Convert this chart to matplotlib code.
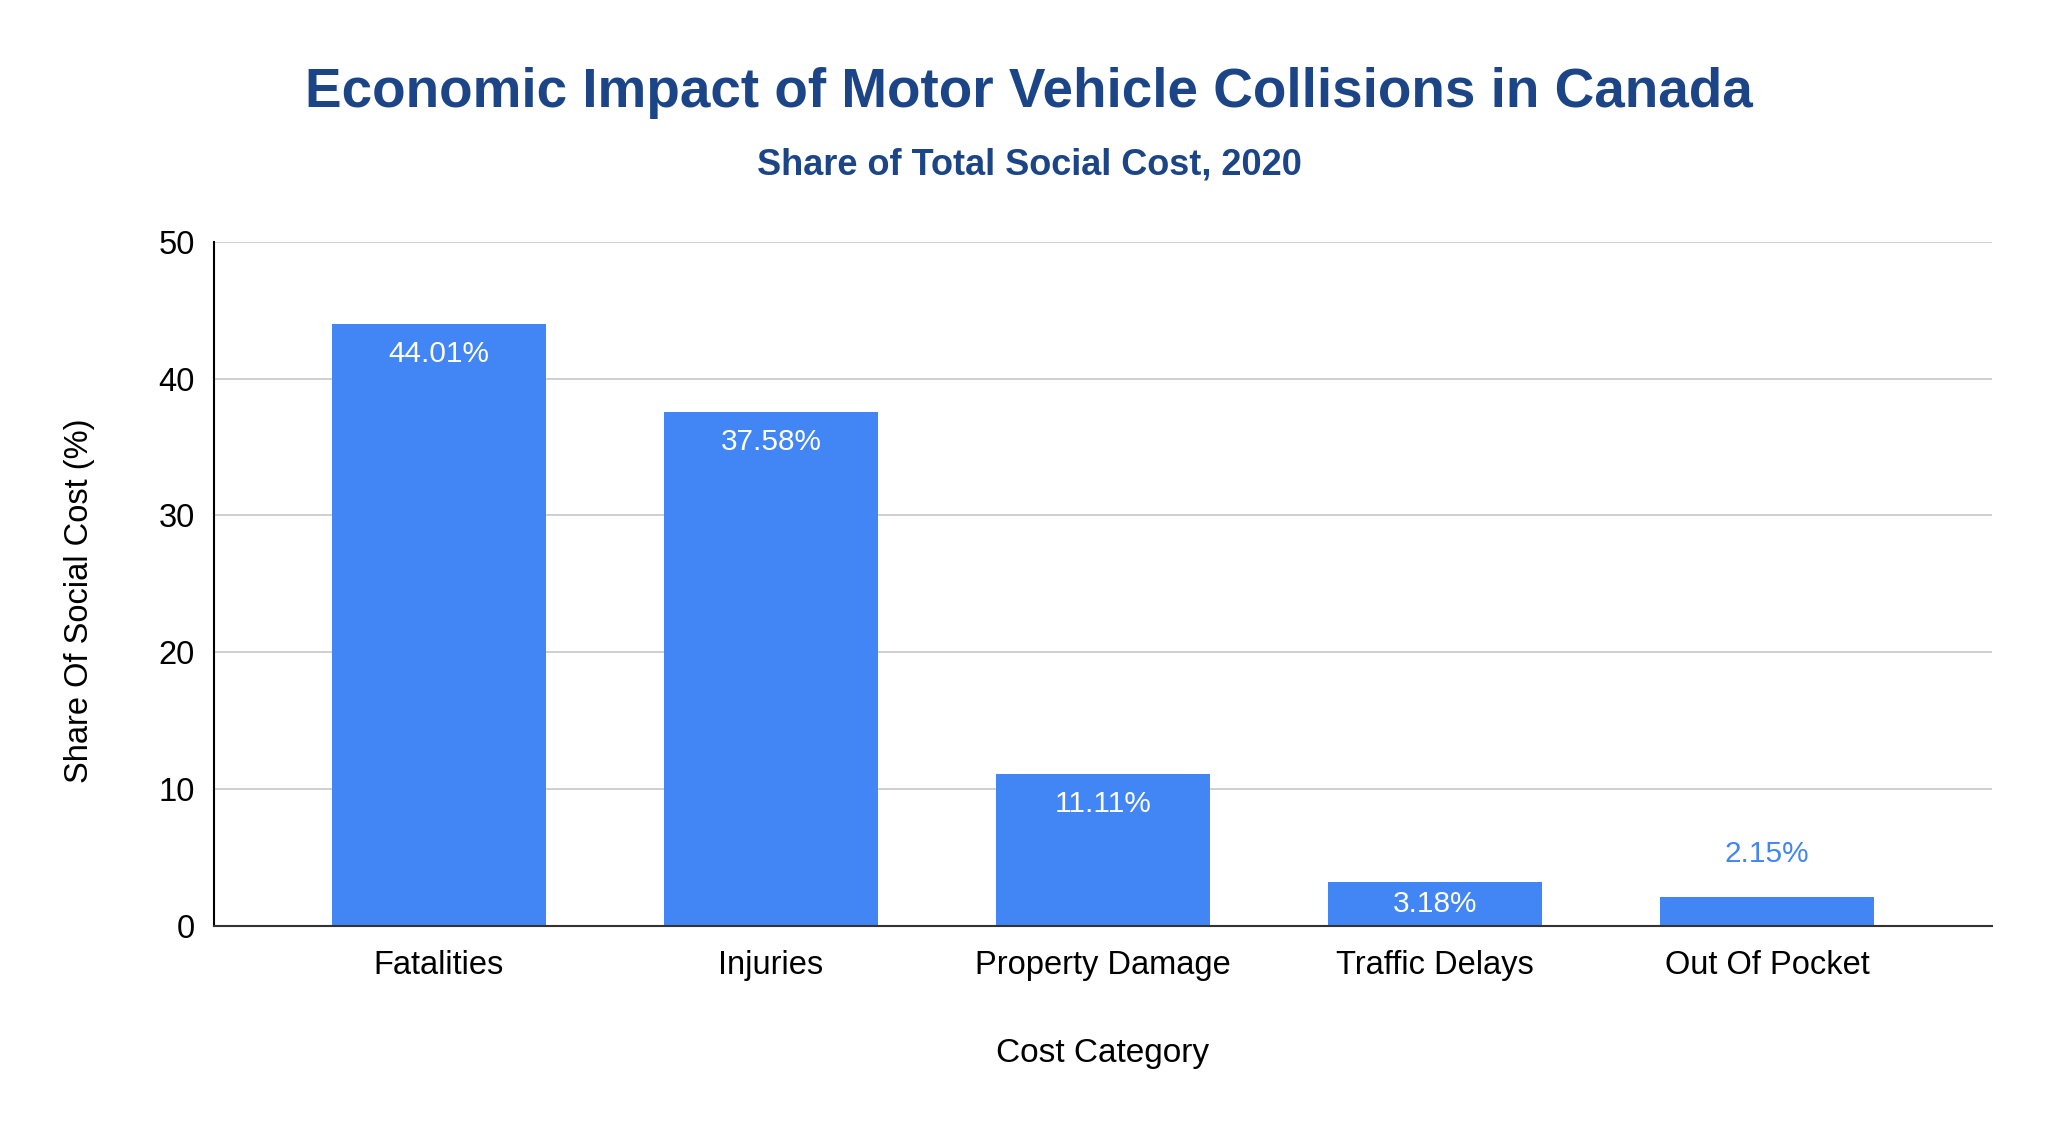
import matplotlib.pyplot as plt

plt.rcParams['font.family'] = ['Liberation Sans', 'DejaVu Sans']

categories = ['Fatalities', 'Injuries', 'Property Damage', 'Traffic Delays', 'Out Of Pocket']
shares = [44.01, 37.58, 11.11, 3.18, 2.15]
yticks = [0, 10, 20, 30, 40, 50]

bar_color = '#4285f4'
title_color = '#1c4587'

fig = plt.figure(figsize=(20.48, 11.24), dpi=100)
ax = fig.add_axes([0.1045, 0.1762, 0.868, 0.6088])

x = list(range(len(categories)))
bars = ax.bar(x, shares, width=0.646, color=bar_color, zorder=3)

ax.set_xlim(-0.677, len(categories) - 1 + 0.677)
ax.set_ylim(0, 50)
ax.set_yticks(yticks)
ax.set_xticks(x)
ax.set_xticklabels(categories)
ax.tick_params(axis='both', length=0, labelsize=23.5, colors='#000000')
ax.tick_params(axis='x', pad=17.5)
ax.tick_params(axis='y', pad=14)
ax.yaxis.grid(True, color='#cccccc', linewidth=1.3, zorder=0)

for s in ['top', 'right']:
    ax.spines[s].set_visible(False)
ax.spines['left'].set_color('#000000')
ax.spines['left'].set_linewidth(1.5)
ax.spines['bottom'].set_color('#333333')
ax.spines['bottom'].set_linewidth(1.5)
ax.spines['bottom'].set_zorder(4)

# value labels: inside near the top of the bar, or above it for very short bars
inset = 2.19  # about 30 px in data units
for b, v in zip(bars, shares):
    cx = b.get_x() + b.get_width() / 2
    label = '{:.2f}%'.format(v)
    if v >= 3:
        ax.text(cx, max(v - inset, v / 2), label, ha='center', va='center',
                color='white', fontsize=21.4, zorder=5)
    else:
        ax.annotate(label, (cx, v), xytext=(0, 43), textcoords='offset pixels',
                    ha='center', va='center', color=bar_color, fontsize=21.4, zorder=5)

ax.set_xlabel('Cost Category', fontsize=24, labelpad=40.5)
ax.set_ylabel('Share Of Social Cost (%)', fontsize=23.5, va='center')
ax.yaxis.set_label_coords(-0.0755, 0.475)

fig.text(0.5025, 1 - 93 / 1124, 'Economic Impact of Motor Vehicle Collisions in Canada',
         ha='center', va='center', fontsize=39.5, fontweight='bold', color=title_color)
fig.text(0.5025, 1 - 165 / 1124, 'Share of Total Social Cost, 2020',
         ha='center', va='center', fontsize=26, fontweight='bold', color=title_color)

fig.savefig('out.png', dpi=100)
